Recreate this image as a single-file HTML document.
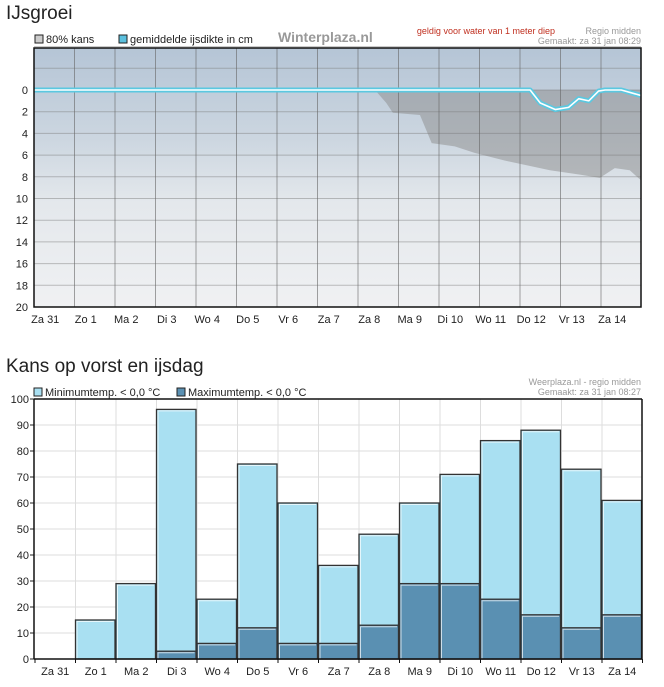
<!DOCTYPE html>
<html><head><meta charset="utf-8"><style>
body{margin:0;width:664px;height:687px;background:#fff;font-family:"Liberation Sans",sans-serif;overflow:hidden}
h2{position:absolute;margin:0;font-weight:normal;font-size:19px;color:#222;left:6px}
svg{position:absolute;left:0;top:0}
</style></head><body>
<h2 style="top:3px">IJsgroei</h2>
<h2 style="top:356px">Kans op vorst en ijsdag</h2>
<svg width="664" height="687" id="svg">
<defs>
<linearGradient id="sky" x1="0" y1="0" x2="0" y2="1">
<stop offset="0" stop-color="#b5c5d6"/><stop offset="0.35" stop-color="#ccd6e0"/><stop offset="0.6" stop-color="#e4e8ec"/><stop offset="1" stop-color="#f0f1f3"/></linearGradient>
</defs>
</svg>
<script>
const days=["Za 31","Zo 1","Ma 2","Di 3","Wo 4","Do 5","Vr 6","Za 7","Za 8","Ma 9","Di 10","Wo 11","Do 12","Vr 13","Za 14"];
const iceTicks=[0,2,4,6,8,10,12,14,16,18,20];
const grayDays=[7.92,8.2,8.36,9.03,9.32,9.89,10.38,11.12,12.24,12.98,13.47,13.84,14.21,14.48];
const grayVals=[0,1.2,2.1,2.3,4.9,5.2,5.8,6.5,7.4,7.8,8.1,7.2,7.4,8.3];
const iceDays=[-0.5,11.75,12.0,12.37,12.7,12.95,13.2,13.44,13.6,14.0,14.48];
const iceVals=[0,0,1.2,1.8,1.6,0.8,1.0,0.1,0,0,0.5];
const minTemp=[0,15,29,96,23,75,60,36,48,60,71,84,88,73,61];
const maxTemp=[0,0,0,3,6,12,6,6,13,29,29,23,17,12,17];
const barTicks=[0,10,20,30,40,50,60,70,80,90,100];
const NS="http://www.w3.org/2000/svg",svg=document.getElementById('svg');
function mk(t,a,txt){const e=document.createElementNS(NS,t);for(const k in a)e.setAttribute(k,a[k]);if(txt!=null)e.textContent=txt;svg.appendChild(e);return e;}
const L=34,R=641,T1=48,B1=307;
const xd=d=>54.25+d*40.5, yi=v=>90+v*10.85;
let e=mk('rect',{x:L,y:T1,width:R-L,height:B1-T1,fill:'url(#sky)'});

let gp='M'+xd(grayDays[0])+','+yi(0);
grayDays.forEach((d,i)=>gp+=' L'+Math.min(xd(d),R)+','+yi(grayVals[i]));
gp+=' L'+R+','+yi(0)+' Z';
e=mk('path',{d:gp,fill:'#8c8c8c','fill-opacity':0.5,'stroke-linejoin':'round'});

for(let v=-4;v<=20;v+=2){mk('line',{x1:L,x2:R,y1:yi(v),y2:yi(v),stroke:'#777','stroke-opacity':0.45});}
for(let i=0;i<15;i++){const x=xd(i)-20.25;if(x>L)mk('line',{x1:x,x2:x,y1:T1,y2:B1,stroke:'#666','stroke-opacity':0.6});}
iceTicks.forEach(v=>{e=mk('text',{x:L-6,y:yi(v)+4,'text-anchor':'end','font-size':11,fill:'#222'},v);
});
days.forEach((d,i)=>{e=mk('text',{x:xd(i)-9,y:B1+16,'text-anchor':'middle','font-size':11,fill:'#222'},d);
});
let lp='';iceDays.forEach((d,i)=>lp+=(i?' L':'M')+Math.min(xd(d),R)+','+yi(iceVals[i]));
mk('path',{d:lp,fill:'none',stroke:'#5bc8e0','stroke-width':5,'stroke-linejoin':'round'});
e=mk('path',{d:lp,fill:'none',stroke:'#fff','stroke-width':1.6,'stroke-linejoin':'round'});

mk('rect',{x:L,y:T1,width:R-L,height:B1-T1,fill:'none',stroke:'#111','stroke-width':1.5});
e=mk('rect',{x:35,y:35,width:8,height:8,fill:'#ccc',stroke:'#222'});
e=mk('text',{x:46,y:43,'font-size':11,fill:'#222'},'80% kans');
e=mk('rect',{x:119,y:35,width:8,height:8,fill:'#5bc0de',stroke:'#222'});
e=mk('text',{x:130,y:43,'font-size':11,fill:'#222'},'gemiddelde ijsdikte in cm');
e=mk('text',{x:278,y:42,'font-size':14,'font-weight':'bold',fill:'#999'},'Winterplaza.nl');
e=mk('text',{x:555,y:34,'text-anchor':'end','font-size':9,fill:'#c03020'},'geldig voor water van 1 meter diep');
mk('text',{x:641,y:34,'text-anchor':'end','font-size':9,fill:'#999'},'Regio midden');
mk('text',{x:641,y:44,'text-anchor':'end','font-size':9,fill:'#999'},'Gemaakt: za 31 jan 08:29');
const T2=399,B2=659,R2=642,cw=40.5;
const yb=v=>B2-v*2.6, xc=i=>L+1+i*cw;
for(let i=1;i<15;i++)mk('line',{x1:xc(i),x2:xc(i),y1:T2,y2:B2,stroke:'#ddd'});
barTicks.forEach(v=>{mk('line',{x1:L,x2:R2,y1:yb(v),y2:yb(v),stroke:'#ddd'});
mk('line',{x1:L-4,x2:L,y1:yb(v),y2:yb(v),stroke:'#222'});
e=mk('text',{x:L-5,y:yb(v)+4,'text-anchor':'end','font-size':11,fill:'#222'},v);});
function bar(i,v,fill,name){if(v<=0)return;const x=xc(i),y=yb(v),w=cw-1,h=B2-y;
let b=mk('rect',{x:x,y:y,width:w,height:h,fill:fill,stroke:'#333','stroke-width':1.3});

mk('path',{d:`M${x+1.5},${B2} V${y+1.5} H${x+w-1.5}`,fill:'none',stroke:'#fff','stroke-opacity':0.7,'stroke-width':1});}
minTemp.forEach((v,i)=>bar(i,v,'#a9e0f2','bar-min-temp'));
maxTemp.forEach((v,i)=>bar(i,v,'#5a90b2','bar-max-temp'));
mk('line',{x1:L,x2:R2,y1:B2,y2:B2,stroke:'#111','stroke-width':1.5});
mk('line',{x1:L,x2:L,y1:T2,y2:B2,stroke:'#111','stroke-width':1.5});
mk('line',{x1:L,x2:R2,y1:T2,y2:T2,stroke:'#111','stroke-width':1.5});
mk('line',{x1:R2,x2:R2,y1:T2,y2:B2,stroke:'#111','stroke-width':1.5});
for(let i=0;i<=15;i++)mk('line',{x1:xc(i),x2:xc(i),y1:B2,y2:B2+4,stroke:'#111'});
days.forEach((d,i)=>{e=mk('text',{x:xc(i)+cw/2,y:B2+16,'text-anchor':'middle','font-size':11,fill:'#222'},d);});
e=mk('rect',{x:34,y:388,width:8,height:8,fill:'#a9e0f2',stroke:'#222'});
e=mk('text',{x:45,y:396,'font-size':11,fill:'#222'},'Minimumtemp. < 0,0 °C');
e=mk('rect',{x:177,y:388,width:8,height:8,fill:'#5a90b2',stroke:'#222'});
e=mk('text',{x:188,y:396,'font-size':11,fill:'#222'},'Maximumtemp. < 0,0 °C');
mk('text',{x:641,y:385,'text-anchor':'end','font-size':9,fill:'#999'},'Weerplaza.nl - regio midden');
mk('text',{x:641,y:395,'text-anchor':'end','font-size':9,fill:'#999'},'Gemaakt: za 31 jan 08:27');
</script>
</body></html>
